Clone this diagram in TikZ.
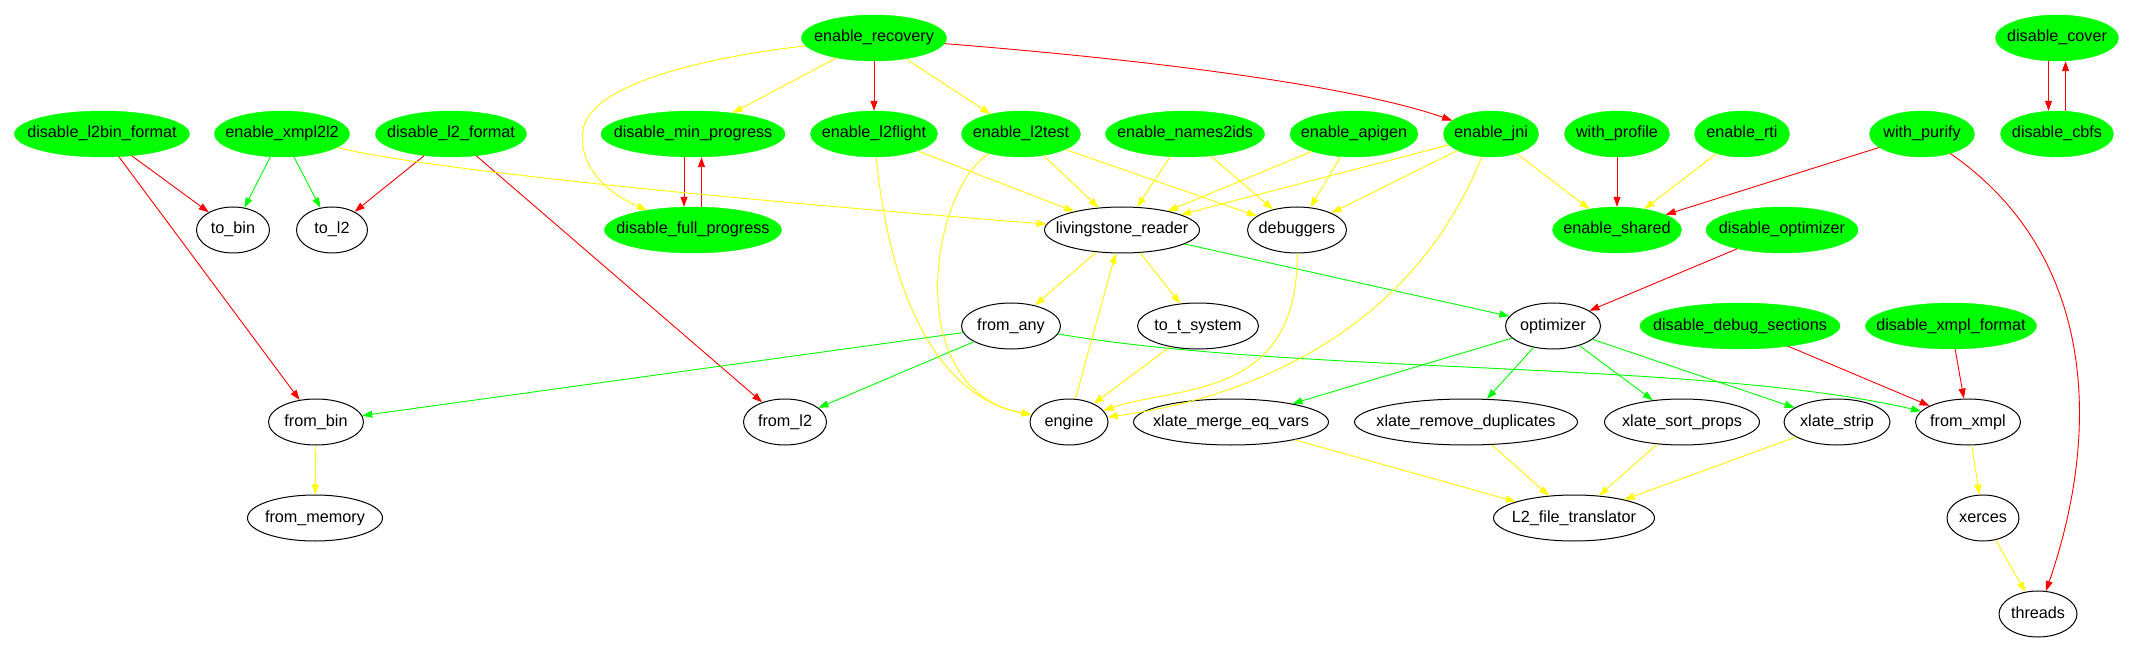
\documentclass[tikz,border=0pt]{standalone}
\usepackage{fontspec}
\setmainfont{Liberation Sans}
\usetikzlibrary{arrows.meta,shapes.geometric}
\definecolor{gvgreen}{RGB}{0,255,0}
\definecolor{gvred}{RGB}{255,0,0}
\definecolor{gvyellow}{RGB}{255,255,0}
\begin{document}
\begin{tikzpicture}[x=1pt,y=-1pt,
  base/.style={ellipse, inner sep=0pt, minimum height=46pt,
    font=\fontsize{16.2}{19}\selectfont, text height=11.5pt, text depth=3.5pt},
  opt/.style={base, fill=gvgreen, draw=gvgreen},
  mod/.style={base, draw=black, line width=1pt, fill=white},
  e/.style={line width=0.9pt, -{Triangle[length=10pt,width=7pt]}},
  er/.style={e, draw=gvred},
  eg/.style={e, draw=gvgreen},
  ey/.style={e, draw=gvyellow}]
\fill[white] (0,0) rectangle (2133,652);
\useasboundingbox (0,0) rectangle (2133,652);

% row 0
\node[opt, minimum width=145pt] (erec) at (874,38) {\makebox[0pt]{enable\_recovery}};
\node[opt, minimum width=123pt] (dcover) at (2057,38) {\makebox[0pt]{disable\_cover}};
% row 1
\node[opt, minimum width=175pt] (dl2bin) at (102,134) {\makebox[0pt]{disable\_l2bin\_format}};
\node[opt, minimum width=135pt] (exmpl) at (282,134) {\makebox[0pt]{enable\_xmpl2l2}};
\node[opt, minimum width=151pt] (dl2f) at (451,134) {\makebox[0pt]{disable\_l2\_format}};
\node[opt, minimum width=184pt] (dminp) at (693,134) {\makebox[0pt]{disable\_min\_progress}};
\node[opt, minimum width=127pt] (el2flight) at (874,134) {\makebox[0pt]{enable\_l2flight}};
\node[opt, minimum width=119pt] (el2test) at (1021,134) {\makebox[0pt]{enable\_l2test}};
\node[opt, minimum width=159pt] (enames) at (1185,134) {\makebox[0pt]{enable\_names2ids}};
\node[opt, minimum width=128pt] (eapigen) at (1354,134) {\makebox[0pt]{enable\_apigen}};
\node[opt, minimum width=95pt] (ejni) at (1491,134) {\makebox[0pt]{enable\_jni}};
\node[opt, minimum width=105pt] (wprofile) at (1617,134) {\makebox[0pt]{with\_profile}};
\node[opt, minimum width=95pt] (erti) at (1742,134) {\makebox[0pt]{enable\_rti}};
\node[opt, minimum width=105pt] (wpurify) at (1922,134) {\makebox[0pt]{with\_purify}};
\node[opt, minimum width=113pt] (dcbfs) at (2057,134) {\makebox[0pt]{disable\_cbfs}};
% row 2
\node[mod, minimum width=73pt] (tobin) at (233,230) {\makebox[0pt]{to\_bin}};
\node[mod, minimum width=71pt] (tol2) at (332,230) {\makebox[0pt]{to\_l2}};
\node[opt, minimum width=177pt] (dfullp) at (693,230) {\makebox[0pt]{disable\_full\_progress}};
\node[mod, minimum width=155pt] (lread) at (1122,230) {\makebox[0pt]{livingstone\_reader}};
\node[mod, minimum width=99pt] (debug) at (1297,230) {\makebox[0pt]{debuggers}};
\node[opt, minimum width=129pt] (eshared) at (1617,230) {\makebox[0pt]{enable\_shared}};
\node[opt, minimum width=152pt] (dopt) at (1782,230) {\makebox[0pt]{disable\_optimizer}};
% row 3
\node[mod, minimum width=99pt] (fany) at (1011,326) {\makebox[0pt]{from\_any}};
\node[mod, minimum width=121pt] (tts) at (1198,326) {\makebox[0pt]{to\_t\_system}};
\node[mod, minimum width=95pt] (optim) at (1553,326) {\makebox[0pt]{optimizer}};
\node[opt, minimum width=200pt] (ddebug) at (1740,326) {\makebox[0pt]{disable\_debug\_sections}};
\node[opt, minimum width=171pt] (dxmpl) at (1951,326) {\makebox[0pt]{disable\_xmpl\_format}};
% row 4
\node[mod, minimum width=95pt] (fbin) at (316,422) {\makebox[0pt]{from\_bin}};
\node[mod, minimum width=83pt] (fl2) at (785,422) {\makebox[0pt]{from\_l2}};
\node[mod, minimum width=78pt] (engine) at (1069,422) {\makebox[0pt]{engine}};
\node[mod, minimum width=195pt] (xmerge) at (1231,422) {\makebox[0pt]{xlate\_merge\_eq\_vars}};
\node[mod, minimum width=223pt] (xremove) at (1466,422) {\makebox[0pt]{xlate\_remove\_duplicates}};
\node[mod, minimum width=155pt] (xsort) at (1682,422) {\makebox[0pt]{xlate\_sort\_props}};
\node[mod, minimum width=106pt] (xstrip) at (1837,422) {\makebox[0pt]{xlate\_strip}};
\node[mod, minimum width=105pt] (fxmpl) at (1968,422) {\makebox[0pt]{from\_xmpl}};
% row 5
\node[mod, minimum width=135pt] (fmem) at (315,518) {\makebox[0pt]{from\_memory}};
\node[mod, minimum width=161pt] (l2ft) at (1574,518) {\makebox[0pt]{L2\_file\_translator}};
\node[mod, minimum width=72pt] (xerces) at (1983,518) {\makebox[0pt]{xerces}};
% row 6
\node[mod, minimum width=78pt] (threads) at (2038,614) {\makebox[0pt]{threads}};

% ---- red edges
\draw[er] (erec) -- (el2flight);
\draw[er] (erec) .. controls (1150,60) and (1350,85) .. (ejni);
\draw[er] ([xshift=-9pt]dminp.south) -- ([xshift=-9pt]dfullp.north);
\draw[er] ([xshift=8.5pt]dfullp.north) -- ([xshift=8.5pt]dminp.south);
\draw[er] ([xshift=-8.5pt]dcover.south) -- ([xshift=-8.5pt]dcbfs.north);
\draw[er] ([xshift=8.5pt]dcbfs.north) -- ([xshift=8.5pt]dcover.south);
\draw[er] (dl2bin) -- (tobin);
\draw[er] (dl2bin) -- (fbin);
\draw[er] (dl2f) -- (tol2);
\draw[er] (dl2f) -- (fl2);
\draw[er] (wprofile) -- (eshared);
\draw[er] (wpurify) -- (eshared);
\draw[er] (wpurify) .. controls (2090,250) and (2105,420) .. (threads);
\draw[er] (dopt) -- (optim);
\draw[er] (ddebug) -- (fxmpl);
\draw[er] (dxmpl) -- (fxmpl);

% ---- green edges
\draw[eg] (exmpl) -- (tobin);
\draw[eg] (exmpl) -- (tol2);
\draw[eg] (lread) -- (optim);
\draw[eg] (fany) -- (fbin);
\draw[eg] (fany) -- (fl2);
\draw[eg] (fany) .. controls (1300,375) and (1700,360) .. (fxmpl);
\draw[eg] (optim) -- (xmerge);
\draw[eg] (optim) -- (xremove);
\draw[eg] (optim) -- (xsort);
\draw[eg] (optim) -- (xstrip);

% ---- yellow edges
\draw[ey] (erec) -- (dminp);
\draw[ey] (erec) .. controls (700,58) and (590,85) .. (583,130) .. controls (578,165) and (605,192) .. (dfullp);
\draw[ey] (erec) -- (el2test);
\draw[ey] (exmpl) .. controls (420,168) and (700,197) .. (lread);
\draw[ey] (el2flight) -- (lread);
\draw[ey] (el2flight) .. controls (888,280) and (930,395) .. (engine);
\draw[ey] (el2test) -- (lread);
\draw[ey] (el2test) -- (debug);
\draw[ey] (el2test) .. controls (930,190) and (900,390) .. (engine);
\draw[ey] (enames) -- (lread);
\draw[ey] (enames) -- (debug);
\draw[ey] (eapigen) -- (lread);
\draw[ey] (eapigen) -- (debug);
\draw[ey] (ejni) -- (lread);
\draw[ey] (ejni) -- (debug);
\draw[ey] (ejni) -- (eshared);
\draw[ey] (ejni) .. controls (1400,360) and (1200,405) .. (engine);
\draw[ey] (erti) -- (eshared);
\draw[ey] (lread) -- (fany);
\draw[ey] (lread) -- (tts);
\draw[ey] (engine) -- (lread);
\draw[ey] (tts) -- (engine);
\draw[ey] (debug) .. controls (1298,400) and (1180,385) .. (engine);
\draw[ey] (fbin) -- (fmem);
\draw[ey] (xmerge) -- (l2ft);
\draw[ey] (xremove) -- (l2ft);
\draw[ey] (xsort) -- (l2ft);
\draw[ey] (xstrip) -- (l2ft);
\draw[ey] (fxmpl) -- (xerces);
\draw[ey] (xerces) -- (threads);
\end{tikzpicture}
\end{document}
